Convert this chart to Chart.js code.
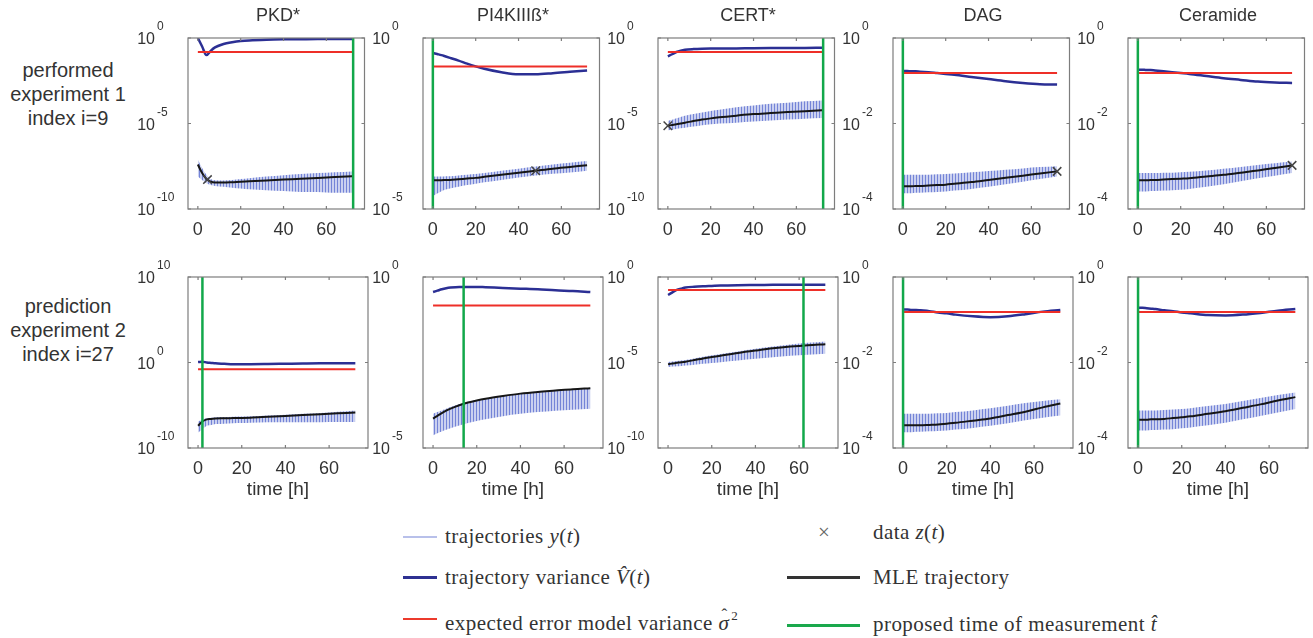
<!DOCTYPE html>
<html lang="en">
<head>
<meta charset="UTF-8">
<title>Trajectory variance per species</title>
<script src="https://cdn.jsdelivr.net/npm/chart.js"></script>
<style>
  html, body { margin: 0; padding: 0; background: #fff; }
  body { position: relative; width: 1313px; height: 638px; overflow: hidden;
         font-family: 'Liberation Sans', Arial, sans-serif; color: #333; }
  canvas.panel { position: absolute; }
  .title { position: absolute; top: 4px; width: 180px; text-align: center; font-size: 18px; line-height: 22px; }
  .rowlab { position: absolute; left: 0; width: 136px; text-align: center; font-size: 20px; line-height: 24px; }
  .leg { position: absolute; font-family: 'Liberation Serif', serif; font-size: 21px; line-height: 24px;
         color: #333; white-space: nowrap; letter-spacing: 0.45px; }
  .leg sup { font-size: 13px; position: relative; top: -2px; margin-left: 2px; }
  .hat { position: relative; }
  .hat b { position: absolute; left: 3px; top: -8px; font-weight: normal; font-style: normal; font-size: 17px; }
  .sw { position: absolute; height: 0; }
</style>
</head>
<body>
<div class="rowlab" style="top:58px">performed<br>experiment 1<br>index i=9</div>
<div class="rowlab" style="top:294px">prediction<br>experiment 2<br>index i=27</div>

<div class="sw" style="left:403px; top:536px; width:34px; border-top:2px solid #b8c0ea"></div>
<div class="leg" style="left:445px; top:524px">trajectories <i>y</i>(<i>t</i>)</div>
<div class="sw" style="left:403px; top:576px; width:34px; border-top:3px solid #2e3192"></div>
<div class="leg" style="left:445px; top:565px">trajectory variance <i>V̂</i>(<i>t</i>)</div>
<div class="sw" style="left:403px; top:618px; width:34px; border-top:2px solid #ec3a2c"></div>
<div class="leg" style="left:445px; top:606px">expected error model variance <i class="hat">σ<b>ˆ</b></i><sup>2</sup></div>

<div class="leg" style="left:818px; top:520px; color:#666">×</div>
<div class="leg" style="left:873px; top:520px">data <i>z</i>(<i>t</i>)</div>
<div class="sw" style="left:787px; top:576px; width:73px; border-top:3px solid #333"></div>
<div class="leg" style="left:873px; top:565px">MLE trajectory</div>
<div class="sw" style="left:787px; top:624px; width:73px; border-top:3px solid #1aa84c"></div>
<div class="leg" style="left:873px; top:612px">proposed time of measurement <i>t̂</i></div>

<script>
// time grid [h]
const times = [0, 2, 4, 6, 8, 12, 16, 20, 24, 32, 40, 48, 56, 64, 72];
const species = ['PKD*', 'PI4KIIIß*', 'CERT*', 'DAG', 'Ceramide'];
const xTicks = [0, 20, 40, 60];

// all y values below are log10 of the plotted quantity
// row 1: performed experiment 1
const pkd1Var = [0.0, -0.5, -1.0, -0.75, -0.55, -0.35, -0.25, -0.18, -0.14, -0.1, -0.08, -0.07, -0.06, -0.06, -0.06];
const pkd1Mle = [-7.4, -7.9, -8.25, -8.4, -8.45, -8.45, -8.43, -8.4, -8.38, -8.33, -8.28, -8.23, -8.18, -8.13, -8.08];
const pkd1Hi  = [-7.1, -7.6, -8.0, -8.25, -8.32, -8.33, -8.3, -8.25, -8.2, -8.1, -8.02, -7.96, -7.9, -7.85, -7.8];
const pkd1Lo  = [-8.1, -8.3, -8.5, -8.6, -8.65, -8.7, -8.75, -8.8, -8.85, -8.9, -8.95, -9.0, -9.0, -9.05, -9.05];

const pi1Var = [-0.44, -0.47, -0.5, -0.54, -0.58, -0.66, -0.75, -0.83, -0.9, -1.0, -1.06, -1.06, -1.03, -0.99, -0.95];
const pi1Mle = [-4.16, -4.16, -4.16, -4.15, -4.15, -4.13, -4.11, -4.09, -4.06, -4.0, -3.94, -3.88, -3.82, -3.77, -3.72];
const pi1Hi  = [-4.05, -4.05, -4.05, -4.04, -4.04, -4.02, -4.0, -3.98, -3.95, -3.88, -3.82, -3.76, -3.7, -3.65, -3.6];
const pi1Lo  = [-4.63, -4.55, -4.48, -4.43, -4.4, -4.35, -4.3, -4.26, -4.22, -4.15, -4.08, -4.02, -3.97, -3.93, -3.88];

const cert1Var = [-1.07, -0.95, -0.82, -0.74, -0.69, -0.65, -0.63, -0.62, -0.62, -0.61, -0.6, -0.59, -0.58, -0.58, -0.57];
const cert1Mle = [-5.13, -5.09, -5.05, -5.0, -4.95, -4.86, -4.77, -4.7, -4.64, -4.54, -4.45, -4.39, -4.33, -4.28, -4.23];
const cert1Hi  = [-4.85, -4.78, -4.7, -4.62, -4.55, -4.45, -4.35, -4.27, -4.2, -4.05, -3.95, -3.85, -3.78, -3.7, -3.65];
const cert1Lo  = [-5.4, -5.36, -5.32, -5.28, -5.25, -5.18, -5.1, -5.05, -5.0, -4.95, -4.88, -4.82, -4.77, -4.72, -4.68];

const dag1Var = [-0.77, -0.77, -0.78, -0.78, -0.79, -0.8, -0.82, -0.84, -0.86, -0.91, -0.96, -1.01, -1.05, -1.08, -1.09];
const dag1Mle = [-3.47, -3.47, -3.47, -3.46, -3.46, -3.45, -3.44, -3.43, -3.41, -3.37, -3.32, -3.27, -3.22, -3.17, -3.12];
const dag1Hi  = [-3.2, -3.2, -3.2, -3.2, -3.2, -3.2, -3.19, -3.18, -3.17, -3.14, -3.11, -3.08, -3.05, -3.02, -3.0];
const dag1Lo  = [-3.63, -3.63, -3.63, -3.62, -3.62, -3.61, -3.6, -3.59, -3.57, -3.53, -3.48, -3.42, -3.36, -3.3, -3.24];

const cer1Var = [-0.74, -0.74, -0.75, -0.75, -0.76, -0.78, -0.8, -0.82, -0.84, -0.89, -0.94, -0.98, -1.02, -1.04, -1.05];
const cer1Mle = [-3.33, -3.33, -3.33, -3.32, -3.32, -3.31, -3.3, -3.29, -3.28, -3.24, -3.2, -3.15, -3.1, -3.04, -2.98];
const cer1Hi  = [-3.16, -3.16, -3.16, -3.16, -3.16, -3.15, -3.15, -3.14, -3.13, -3.1, -3.06, -3.02, -2.97, -2.93, -2.89];
const cer1Lo  = [-3.59, -3.59, -3.59, -3.58, -3.58, -3.57, -3.56, -3.55, -3.53, -3.48, -3.42, -3.35, -3.28, -3.22, -3.16];

// row 2: prediction experiment 2
const pkd2Var = [0.05, 0.1, 0.0, -0.05, -0.1, -0.15, -0.2, -0.2, -0.2, -0.18, -0.15, -0.12, -0.1, -0.1, -0.1];
const pkd2Mle = [-7.4, -6.9, -6.65, -6.6, -6.55, -6.52, -6.5, -6.48, -6.45, -6.35, -6.25, -6.15, -6.05, -5.95, -5.85];
const pkd2Hi  = [-6.9, -6.7, -6.5, -6.45, -6.4, -6.38, -6.35, -6.33, -6.3, -6.2, -6.1, -6.0, -5.9, -5.75, -5.6];
const pkd2Lo  = [-8.2, -7.8, -7.4, -7.3, -7.2, -7.15, -7.1, -7.08, -7.05, -7.0, -7.0, -7.0, -6.98, -6.96, -6.95];

const pi2Var = [-0.44, -0.4, -0.36, -0.33, -0.31, -0.29, -0.29, -0.29, -0.3, -0.32, -0.34, -0.36, -0.39, -0.41, -0.44];
const pi2Mle = [-4.14, -4.06, -3.98, -3.91, -3.85, -3.75, -3.67, -3.61, -3.56, -3.48, -3.41, -3.36, -3.32, -3.28, -3.25];
const pi2Hi  = [-4.0, -3.95, -3.9, -3.85, -3.8, -3.72, -3.65, -3.6, -3.55, -3.47, -3.41, -3.36, -3.32, -3.28, -3.24];
const pi2Lo  = [-4.63, -4.57, -4.52, -4.47, -4.42, -4.34, -4.27, -4.21, -4.16, -4.07, -4.0, -3.95, -3.91, -3.88, -3.85];

const cert2Var = [-1.05, -0.9, -0.75, -0.68, -0.62, -0.57, -0.54, -0.52, -0.5, -0.48, -0.47, -0.46, -0.45, -0.45, -0.45];
const cert2Mle = [-5.1, -5.06, -5.02, -4.98, -4.95, -4.86, -4.76, -4.68, -4.6, -4.44, -4.3, -4.17, -4.07, -3.99, -3.93];
const cert2Hi  = [-4.97, -4.94, -4.91, -4.88, -4.85, -4.76, -4.67, -4.58, -4.5, -4.35, -4.2, -4.07, -3.95, -3.85, -3.77];
const cert2Lo  = [-5.26, -5.24, -5.22, -5.2, -5.18, -5.13, -5.08, -5.03, -4.98, -4.88, -4.78, -4.69, -4.6, -4.54, -4.49];

const dag2Var = [-0.76, -0.76, -0.77, -0.77, -0.78, -0.8, -0.83, -0.85, -0.88, -0.92, -0.94, -0.92, -0.87, -0.81, -0.77];
const dag2Mle = [-3.47, -3.47, -3.47, -3.47, -3.47, -3.46, -3.45, -3.43, -3.41, -3.36, -3.31, -3.23, -3.15, -3.05, -2.96];
const dag2Hi  = [-3.2, -3.2, -3.2, -3.2, -3.2, -3.2, -3.19, -3.18, -3.16, -3.12, -3.07, -3.01, -2.95, -2.9, -2.86];
const dag2Lo  = [-3.63, -3.63, -3.63, -3.62, -3.62, -3.61, -3.6, -3.59, -3.57, -3.53, -3.48, -3.42, -3.35, -3.29, -3.24];

const cer2Var = [-0.72, -0.72, -0.73, -0.74, -0.75, -0.78, -0.8, -0.83, -0.85, -0.89, -0.9, -0.88, -0.84, -0.79, -0.75];
const cer2Mle = [-3.34, -3.34, -3.34, -3.33, -3.33, -3.32, -3.3, -3.28, -3.26, -3.2, -3.14, -3.06, -2.98, -2.89, -2.81];
const cer2Hi  = [-3.12, -3.12, -3.12, -3.12, -3.12, -3.11, -3.1, -3.09, -3.07, -3.02, -2.97, -2.9, -2.83, -2.76, -2.7];
const cer2Lo  = [-3.59, -3.59, -3.59, -3.58, -3.58, -3.57, -3.56, -3.54, -3.52, -3.47, -3.41, -3.33, -3.25, -3.17, -3.09];

// expected error model variance (log10), proposed measurement time, data points
const errTop = [-0.82, -0.83, -0.82, -0.82, -0.82];
const errBottom = [-0.8, -0.83, -0.76, -0.82, -0.82];
const tHatTop = [72.5, 0, 72.5, 0, 0];
const tHatBottom = [2, 14, 62, 0, 0];
const dataTop = [[4.5, -8.28], [48, -3.88], [0, -5.13], [72, -3.12], [72, -2.98]];

// decade tick exponents per panel
const yTicksTop = [[-10, -5, 0], [-5, 0], [-10, -5, 0], [-4, -2, 0], [-4, -2, 0]];
const yTicksBottom = [[-10, 0, 10], [-5, 0], [-10, -5, 0], [-4, -2, 0], [-4, -2, 0]];

const rows = [
  [[pkd1Var, pkd1Mle, pkd1Hi, pkd1Lo], [pi1Var, pi1Mle, pi1Hi, pi1Lo], [cert1Var, cert1Mle, cert1Hi, cert1Lo],
   [dag1Var, dag1Mle, dag1Hi, dag1Lo], [cer1Var, cer1Mle, cer1Hi, cer1Lo]],
  [[pkd2Var, pkd2Mle, pkd2Hi, pkd2Lo], [pi2Var, pi2Mle, pi2Hi, pi2Lo], [cert2Var, cert2Mle, cert2Hi, cert2Lo],
   [dag2Var, dag2Mle, dag2Hi, dag2Lo], [cer2Var, cer2Mle, cer2Hi, cer2Lo]]
];

const colLeft = [188, 423, 658, 893, 1128];
const rowTop = [38, 277];
const PW = 180, PH = 171, PADL = 58, PADT = 22, PADR = 4;
const FONT = "'Liberation Sans', Arial, sans-serif";

const toPts = arr => times.map((t, i) => ({ x: t, y: Math.pow(10, arr[i]) }));

function stripePattern() {
  const c = document.createElement('canvas');
  c.width = 3; c.height = 4;
  const g = c.getContext('2d');
  g.fillStyle = 'rgba(160,172,228,0.55)';
  g.fillRect(0, 0, 3, 4);
  g.fillStyle = 'rgba(80,100,205,0.7)';
  g.fillRect(0, 0, 1, 4);
  return g.createPattern(c, 'repeat');
}

// axes box, inner ticks and 10^k labels
const boxPlugin = {
  id: 'box',
  afterDraw(chart, args, opts) {
    const { ctx, chartArea: a, scales: { x, y } } = chart;
    ctx.save();
    ctx.strokeStyle = '#7d7d7d';
    ctx.lineWidth = 1.2;
    ctx.strokeRect(a.left, a.top, a.right - a.left, a.bottom - a.top);
    ctx.beginPath();
    xTicks.forEach(v => {
      const px = x.getPixelForValue(v);
      ctx.moveTo(px, a.bottom); ctx.lineTo(px, a.bottom - 3);
      ctx.moveTo(px, a.top); ctx.lineTo(px, a.top + 3);
    });
    opts.exps.forEach(e => {
      const py = y.getPixelForValue(Math.pow(10, e));
      ctx.moveTo(a.left, py); ctx.lineTo(a.left + 3, py);
      ctx.moveTo(a.right, py); ctx.lineTo(a.right - 3, py);
    });
    ctx.stroke();
    ctx.fillStyle = '#333';
    ctx.textBaseline = 'middle';
    opts.exps.forEach(e => {
      const py = y.getPixelForValue(Math.pow(10, e));
      ctx.font = '16px ' + FONT;
      ctx.textAlign = 'right';
      ctx.fillText('10', a.left - 33, py + 2);
      ctx.font = '12px ' + FONT;
      ctx.textAlign = 'left';
      ctx.fillText(String(e), a.left - 31, py - 11);
    });
    ctx.restore();
  }
};

function makePanel(r, c) {
  const [vVar, vMle, vHi, vLo] = rows[r][c];
  const exps = r === 0 ? yTicksTop[c] : yTicksBottom[c];
  const err = r === 0 ? errTop[c] : errBottom[c];
  const tHat = r === 0 ? tHatTop[c] : tHatBottom[c];
  const yMin = Math.pow(10, exps[0]), yMax = Math.pow(10, exps[exps.length - 1]);
  const axisH = r === 0 ? 28 : 57;

  const cv = document.createElement('canvas');
  cv.className = 'panel';
  cv.width = PADL + PW + PADR;
  cv.height = PADT + PH + axisH;
  cv.style.left = (colLeft[c] - PADL) + 'px';
  cv.style.top = (rowTop[r] - PADT) + 'px';
  document.body.appendChild(cv);

  if (r === 0) {
    const t = document.createElement('div');
    t.className = 'title';
    t.style.left = colLeft[c] + 'px';
    t.textContent = species[c];
    document.body.appendChild(t);
  }

  const datasets = [
    { label: 'data', type: 'scatter', data: r === 0 ? [{ x: dataTop[c][0], y: Math.pow(10, dataTop[c][1]) }] : [],
      pointStyle: 'crossRot', pointRadius: 6, borderColor: '#444', borderWidth: 1.5, order: 0 },
    { label: 'tHat', data: [{ x: tHat, y: yMin }, { x: tHat, y: yMax }], borderColor: '#12a84a', borderWidth: 2.5, order: 1 },
    { label: 'err', data: [{ x: 0, y: Math.pow(10, err) }, { x: 72, y: Math.pow(10, err) }], borderColor: '#ee2f28', borderWidth: 2, order: 2 },
    { label: 'var', data: toPts(vVar), borderColor: '#2b2f94', borderWidth: 2.5, cubicInterpolationMode: 'monotone', order: 3 },
    { label: 'mle', data: toPts(vMle), borderColor: '#161616', borderWidth: 2, cubicInterpolationMode: 'monotone', order: 4 },
    { label: 'lo', data: toPts(vLo), borderWidth: 0, borderColor: 'rgba(0,0,0,0)', cubicInterpolationMode: 'monotone', order: 6 },
    { label: 'hi', data: toPts(vHi), borderWidth: 0, borderColor: 'rgba(0,0,0,0)', cubicInterpolationMode: 'monotone',
      fill: '-1', backgroundColor: stripePattern(), order: 5 }
  ];

  new Chart(cv, {
    type: 'line',
    data: { datasets },
    plugins: [boxPlugin],
    options: {
      responsive: false,
      animation: false,
      layout: { padding: { left: PADL, top: PADT, right: PADR, bottom: 0 } },
      elements: { point: { radius: 0 } },
      plugins: { legend: { display: false }, tooltip: { enabled: false }, box: { exps } },
      scales: {
        x: {
          type: 'linear', min: -4.6, max: 77.8,
          grid: { display: false }, border: { display: false },
          ticks: { autoSkip: false, maxRotation: 0, padding: 2, color: '#333', font: { family: FONT, size: 18 } },
          afterBuildTicks: s => { s.ticks = xTicks.map(v => ({ value: v })); },
          afterFit: s => { s.height = axisH; },
          title: { display: r === 1, text: 'time [h]', color: '#333', font: { family: FONT, size: 19 }, padding: { top: 0, bottom: 4 } }
        },
        y: { type: 'logarithmic', display: false, min: yMin, max: yMax }
      }
    }
  });
}

for (let r = 0; r < 2; r++) {
  for (let c = 0; c < 5; c++) makePanel(r, c);
}
</script>
</body>
</html>
